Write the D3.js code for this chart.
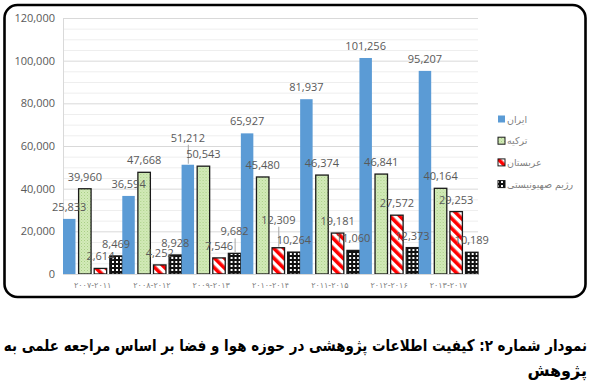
<!DOCTYPE html>
<html><head><meta charset="utf-8">
<script src="https://cdn.jsdelivr.net/npm/d3@7"></script>
<style>body{margin:0;background:#fff} svg{display:block}</style>
</head><body><svg id="c" width="591" height="383"></svg>
<script>
const categories = ["۲۰۰۷-۲۰۱۱","۲۰۰۸-۲۰۱۲","۲۰۰۹-۲۰۱۳","۲۰۱۰-۲۰۱۴","۲۰۱۱-۲۰۱۵","۲۰۱۲-۲۰۱۶","۲۰۱۳-۲۰۱۷"];
const seriesNames = ["ایران","ترکیه","عربستان","رژیم صهیونیستی"];
const iran = [25833,36594,51212,65927,81937,101256,95207];
const turkey = [39960,47668,50543,45480,46374,46841,40164];
const saudi = [2614,4252,7546,12309,19181,27572,29253];
const israel = [8469,8928,9682,10264,11060,12373,10189];
const yTicks = [0,20000,40000,60000,80000,100000,120000];
const captionLines = ["نمودار شماره ۲: کیفیت اطلاعات پژوهشی در حوزه هوا و فضا بر اساس مراجعه علمی به","پژوهش"];

// label lifts (manually moved labels with leader lines) : key "category-series" -> pixels up
const labelLift = {"2-0":15, "2-3":10, "3-2":16};

const svg = d3.select("#c");
const defs = svg.append("defs");
// patterns
const pT = defs.append("pattern").attr("id","pTurkey").attr("patternUnits","userSpaceOnUse").attr("width",3).attr("height",3);
pT.append("rect").attr("width",3).attr("height",3).attr("fill","#d3eab8");
pT.append("rect").attr("x",0).attr("y",0).attr("width",1).attr("height",1).attr("fill","#a8cf86");
pT.append("rect").attr("x",1.5).attr("y",1.5).attr("width",1).attr("height",1).attr("fill","#b9db9c");
const pS = defs.append("pattern").attr("id","pSaudi").attr("patternUnits","userSpaceOnUse").attr("width",7).attr("height",7).attr("patternTransform","rotate(-45)");
pS.append("rect").attr("width",7).attr("height",7).attr("fill","#fff");
pS.append("rect").attr("width",3.6).attr("height",7).attr("fill","#ff0000");
const pI = defs.append("pattern").attr("id","pIsrael").attr("patternUnits","userSpaceOnUse").attr("width",4).attr("height",4);
pI.append("rect").attr("width",4).attr("height",4).attr("fill","#111");
pI.append("rect").attr("x",1).attr("y",1).attr("width",2).attr("height",2).attr("fill","#fff");

const fills = ["#5b9bd5","url(#pTurkey)","url(#pSaudi)","url(#pIsrael)"];
const strokes = ["none","#1a1a1a","#1a1a1a","#1a1a1a"];
const series = [iran, turkey, saudi, israel];

// frame
svg.append("rect").attr("x",4.5).attr("y",5).attr("width",581).attr("height",292).attr("rx",13)
  .attr("fill","none").attr("stroke","#000").attr("stroke-width",2.6);

const x = d3.scaleBand().domain(categories).range([63,478]).padding(0);
const x1 = d3.scaleBand().domain(d3.range(4)).range([0,x.bandwidth()]).paddingInner(0.2).paddingOuter(0);
const y = d3.scaleLinear().domain([0,120000]).range([274,18]);

// minor gridlines
const minor = d3.range(5000,120001,5000).filter(v => v % 20000 !== 0);
svg.append("g").selectAll("line").data(minor).join("line")
  .attr("x1",63).attr("x2",478).attr("y1",d=>y(d)+0.5).attr("y2",d=>y(d)+0.5)
  .attr("stroke","#eeeeee").attr("stroke-width",1);
// major gridlines + y axis
const yAxis = d3.axisLeft(y).tickValues(yTicks).tickSize(-(478-63)).tickPadding(8).tickFormat(d3.format(","));
const yg = svg.append("g").attr("transform","translate(63,0)").call(yAxis);
yg.select(".domain").remove();
yg.selectAll(".tick line").attr("stroke","#d9d9d9");
yg.selectAll(".tick text").attr("fill","#595959").style("font-family","'Open Sans',sans-serif").style("font-size","11px");
svg.append("line").attr("x1",63.5).attr("x2",63.5).attr("y1",18).attr("y2",274).attr("stroke","#d9d9d9");

// bars
const groups = svg.append("g").selectAll("g").data(categories).join("g")
  .attr("transform",d=>`translate(${x(d)},0)`);
groups.each(function(cat, ci){
  const g = d3.select(this);
  series.forEach((s, si) => {
    const v = s[ci];
    g.append("rect").attr("x",x1(si)).attr("y",y(v)).attr("width",x1.bandwidth()).attr("height",y(0)-y(v))
      .attr("fill",fills[si]).attr("stroke",strokes[si]).attr("stroke-width",1.3);
  });
});

// x axis
const xAxis = d3.axisBottom(x).tickSize(0).tickPadding(8);
const xg = svg.append("g").attr("transform","translate(0,274)").call(xAxis);
xg.select(".domain").attr("stroke","#d9d9d9");
xg.selectAll(".tick text").attr("fill","#7f7f7f").style("font-family","'DejaVu Sans',sans-serif").style("font-size","8px").attr("direction","ltr");

// labels
const labG = svg.append("g");
categories.forEach((cat, ci) => {
  series.forEach((s, si) => {
    const v = s[ci];
    const cx = x(cat) + x1(si) + x1.bandwidth()/2;
    const lift = labelLift[ci+"-"+si] || 0;
    const ly = y(v) - 8 - lift;
    if (lift) {
      labG.append("line").attr("x1",cx+0.5).attr("x2",cx+0.5).attr("y1",ly+3).attr("y2",y(v)-1)
        .attr("stroke","#a6a6a6").attr("stroke-width",1);
    }
    labG.append("text").attr("x",cx).attr("y",ly).attr("text-anchor","middle")
      .attr("fill","#595959").style("font-family","'Open Sans',sans-serif").style("font-size","11px")
      .text(d3.format(",")(v));
  });
});

// legend
const lg = svg.append("g");
seriesNames.forEach((n, i) => {
  const ly = 119 + i*21.7;
  lg.append("rect").attr("x",498).attr("y",ly-3.5).attr("width",7).attr("height",7)
    .attr("fill",fills[i]).attr("stroke",strokes[i]).attr("stroke-width",1);
  lg.append("text").attr("x",507).attr("y",ly+3.5).attr("fill","#7f7f7f")
    .style("font-family","'DejaVu Sans',sans-serif").style("font-size","9.5px")
    .attr("direction","rtl").attr("text-anchor","end").text(n);
});

// caption (horizontally condensed to fit the width)
captionLines.forEach((t, i) => {
  const g = svg.append("g");
  const tx = g.append("text").attr("x",0).attr("y",0).attr("direction","rtl").attr("text-anchor","start")
    .style("font-family","'DejaVu Sans',sans-serif").style("font-weight","bold").style("font-size","16px")
    .attr("fill","#000").text(t);
  const w = tx.node().getComputedTextLength();
  const k = w > 584 ? 584 / w : 1;
  g.attr("transform",`translate(587,${351 + i*25}) scale(${k},1)`);
});
</script>
</body></html>
